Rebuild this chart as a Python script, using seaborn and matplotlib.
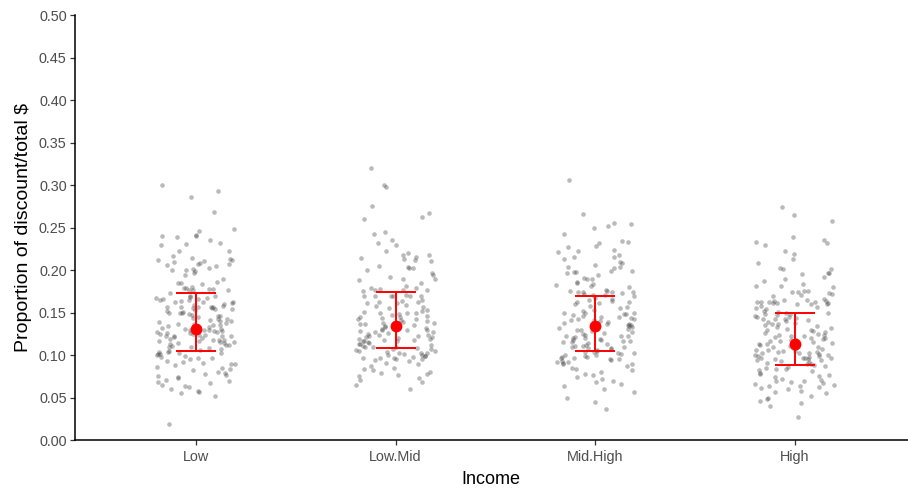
import numpy as np
import pandas as pd
import seaborn as sns
import matplotlib
matplotlib.use("Agg")
import matplotlib.pyplot as plt

# Income groups along the x axis
income_levels = ["Low", "Low.Mid", "Mid.High", "High"]

# Proportion of discount to total spend, per customer
low = [
    0.300, 0.293, 0.286, 0.268, 0.248, 0.246, 0.241, 0.240, 0.239, 0.240, 0.235, 0.232, 0.231, 0.229,
    0.223, 0.222, 0.216, 0.214, 0.213, 0.212, 0.211, 0.212, 0.210, 0.208, 0.207, 0.206, 0.207, 0.205,
    0.202, 0.201, 0.200, 0.199, 0.200, 0.196, 0.194, 0.190, 0.186, 0.185, 0.184, 0.185, 0.180, 0.179,
    0.178, 0.179, 0.177, 0.178, 0.176, 0.177, 0.173, 0.170, 0.168, 0.169, 0.167, 0.166, 0.165, 0.167,
    0.166, 0.156, 0.157, 0.155, 0.154, 0.156,
    0.165, 0.164, 0.163, 0.162, 0.162, 0.161, 0.160, 0.159, 0.158, 0.157,
    0.156, 0.155, 0.154, 0.153, 0.152, 0.151, 0.150, 0.150, 0.149, 0.148, 0.147, 0.146, 0.146, 0.145,
    0.144, 0.143, 0.142, 0.141, 0.140, 0.140, 0.139, 0.138, 0.137, 0.136, 0.135, 0.135, 0.134, 0.133,
    0.132, 0.131, 0.131, 0.130, 0.129, 0.128, 0.128, 0.127, 0.127, 0.126, 0.125, 0.125, 0.124, 0.124,
    0.123, 0.122, 0.122, 0.121, 0.129, 0.126, 0.123,
    0.120, 0.119, 0.118, 0.118, 0.117, 0.116, 0.115, 0.115, 0.114, 0.113, 0.112, 0.112, 0.111, 0.110,
    0.118, 0.114,
    0.109, 0.108, 0.107, 0.106, 0.105, 0.104, 0.103, 0.102, 0.101, 0.100, 0.099, 0.098, 0.104, 0.101,
    0.097, 0.096, 0.095, 0.093, 0.092, 0.091, 0.090, 0.089, 0.088, 0.086,
    0.085, 0.083, 0.082, 0.080, 0.079, 0.078, 0.077, 0.075,
    0.074, 0.073, 0.071, 0.070, 0.068, 0.067, 0.065, 0.063,
    0.062, 0.060, 0.058, 0.056, 0.055, 0.052,
    0.019,
]
low_mid = [
    0.320, 0.300, 0.298, 0.276, 0.267, 0.262, 0.260, 0.245, 0.243, 0.235, 0.232, 0.230, 0.218, 0.222,
    0.220, 0.218, 0.215, 0.214, 0.212, 0.211, 0.213, 0.205, 0.203, 0.202, 0.204, 0.200, 0.194, 0.196,
    0.192, 0.190, 0.188, 0.189, 0.185, 0.181, 0.179, 0.179, 0.178, 0.176, 0.177, 0.175, 0.176, 0.170,
    0.170, 0.169, 0.170, 0.169, 0.171, 0.170, 0.163, 0.161, 0.165,
    0.164, 0.162, 0.161, 0.159, 0.158, 0.156, 0.155, 0.153,
    0.152, 0.151, 0.150, 0.149, 0.149, 0.148, 0.147, 0.146, 0.145, 0.145, 0.144, 0.143, 0.142, 0.141,
    0.140, 0.139, 0.138, 0.138, 0.137, 0.136, 0.135, 0.134, 0.133, 0.132, 0.131, 0.130, 0.130, 0.129,
    0.128, 0.127, 0.127, 0.126, 0.125, 0.124, 0.124, 0.123, 0.122, 0.121, 0.121, 0.120, 0.119, 0.119,
    0.118, 0.118,
    0.117, 0.116, 0.116, 0.115, 0.114, 0.113, 0.113, 0.112, 0.111, 0.110, 0.110, 0.109, 0.108, 0.107,
    0.107, 0.106,
    0.105, 0.105, 0.104, 0.103, 0.103, 0.102, 0.101, 0.100, 0.100, 0.099, 0.099, 0.098, 0.097, 0.097,
    0.096, 0.095, 0.095, 0.094,
    0.093, 0.091, 0.089, 0.087, 0.085, 0.083,
    0.082, 0.080, 0.079, 0.078, 0.076, 0.075, 0.073, 0.071,
    0.068, 0.065, 0.060,
]
mid_high = [
    0.306, 0.266, 0.254, 0.249, 0.252, 0.256, 0.243, 0.234, 0.233, 0.227, 0.232, 0.223, 0.224, 0.221,
    0.228, 0.218, 0.215, 0.213, 0.208, 0.215, 0.210, 0.206, 0.204, 0.203, 0.204, 0.199, 0.199, 0.198,
    0.198, 0.197, 0.194, 0.190, 0.191, 0.190, 0.186, 0.183, 0.184, 0.185, 0.181, 0.180, 0.175, 0.176,
    0.175, 0.174, 0.171, 0.174, 0.174, 0.174, 0.173, 0.172, 0.169, 0.171, 0.167, 0.166,
    0.165, 0.164, 0.163, 0.162, 0.161, 0.160, 0.158, 0.157, 0.155, 0.153, 0.152, 0.150,
    0.150, 0.149, 0.148, 0.148, 0.147, 0.146, 0.145, 0.145, 0.144, 0.143, 0.142, 0.141, 0.141, 0.140,
    0.139, 0.138, 0.137, 0.136, 0.135, 0.135, 0.134, 0.133, 0.132, 0.131, 0.130, 0.129, 0.128, 0.127,
    0.126,
    0.125, 0.124, 0.123, 0.123, 0.122, 0.121, 0.120, 0.120, 0.119, 0.118, 0.118, 0.117, 0.116, 0.115,
    0.115, 0.114,
    0.113, 0.112, 0.111, 0.111, 0.110, 0.109, 0.108, 0.108, 0.107, 0.106, 0.105, 0.104, 0.104, 0.103,
    0.102,
    0.101, 0.100, 0.100, 0.099, 0.098, 0.098, 0.097, 0.096, 0.095, 0.095, 0.094, 0.093, 0.092, 0.092,
    0.091, 0.090,
    0.089, 0.087, 0.085, 0.083, 0.082, 0.080, 0.078,
    0.077, 0.074, 0.072, 0.070, 0.068, 0.066, 0.063, 0.060,
    0.056, 0.050, 0.045, 0.036,
]
high = [
    0.274, 0.258, 0.265, 0.239, 0.232, 0.233, 0.236, 0.229, 0.222, 0.219, 0.213, 0.208, 0.203, 0.201,
    0.201, 0.197, 0.195, 0.196, 0.192, 0.190, 0.187, 0.184, 0.181, 0.181, 0.180, 0.172, 0.174, 0.175,
    0.175, 0.173, 0.174, 0.171, 0.170, 0.164, 0.160, 0.161, 0.163, 0.165, 0.163, 0.161, 0.166, 0.160,
    0.165, 0.164, 0.163, 0.162, 0.161, 0.160, 0.158, 0.157, 0.155, 0.154, 0.152, 0.151, 0.150,
    0.149, 0.148, 0.148, 0.147, 0.146, 0.145, 0.145, 0.144, 0.143, 0.142, 0.142, 0.141,
    0.140, 0.139, 0.138, 0.137, 0.136, 0.135, 0.134, 0.133, 0.132, 0.131, 0.130, 0.129,
    0.128, 0.127, 0.126, 0.125, 0.124, 0.124, 0.123, 0.122, 0.121, 0.120, 0.120, 0.119, 0.118, 0.118,
    0.117, 0.116, 0.115, 0.114, 0.113, 0.113, 0.112, 0.111, 0.110, 0.109, 0.108, 0.108, 0.107, 0.106,
    0.106, 0.105, 0.105, 0.104, 0.104, 0.103, 0.102, 0.102, 0.101, 0.100, 0.100, 0.099, 0.099, 0.098,
    0.097, 0.097, 0.096, 0.096, 0.095, 0.095, 0.094, 0.094,
    0.093, 0.092, 0.091, 0.090, 0.089, 0.088, 0.087, 0.086, 0.085, 0.084, 0.083, 0.082,
    0.081, 0.079, 0.078, 0.076, 0.075, 0.074, 0.072, 0.071,
    0.070, 0.069, 0.068, 0.067, 0.066, 0.065, 0.064, 0.063, 0.062, 0.061, 0.060, 0.058,
    0.057, 0.055, 0.052, 0.050, 0.048, 0.046, 0.043, 0.040,
    0.027,
]

# Group summaries: central point and the ends of each interval
center = [0.131, 0.134, 0.134, 0.113]
lower = [0.105, 0.108, 0.105, 0.088]
upper = [0.173, 0.174, 0.169, 0.149]

df = pd.DataFrame({
    "Income": (["Low"] * len(low) + ["Low.Mid"] * len(low_mid)
               + ["Mid.High"] * len(mid_high) + ["High"] * len(high)),
    "prop": low + low_mid + mid_high + high,
})

sns.set_theme(style="ticks")
plt.rcParams["font.family"] = ["Liberation Sans", "DejaVu Sans"]

fig = plt.figure(figsize=(9.08, 4.90), dpi=100)
ax = fig.add_axes([0.0826, 0.102, 0.917, 0.867])

np.random.seed(7)
sns.stripplot(data=df, x="Income", y="prop", order=income_levels,
              jitter=0.2, size=3.3, color="#3a3a3a", alpha=0.35,
              linewidth=0, ax=ax, zorder=2)

xpos = np.arange(len(income_levels))
c = np.array(center)
ax.errorbar(xpos, c, yerr=[c - np.array(lower), np.array(upper) - c],
            fmt="o", color="red", ecolor="red", markersize=7.5,
            elinewidth=1.4, capsize=14.5, capthick=1.4, zorder=5)

ax.set_xlim(-0.606, 3.565)
ax.set_ylim(0, 0.5)
ax.set_yticks(np.arange(0, 0.501, 0.05))
ax.set_yticklabels([f"{v:.2f}" for v in np.arange(0, 0.501, 0.05)])

sns.despine(ax=ax)
for side in ("left", "bottom"):
    ax.spines[side].set_color("black")
    ax.spines[side].set_linewidth(1.1)
ax.tick_params(axis="both", colors="#333333", labelcolor="#4d4d4d",
               labelsize=10.4, length=3.5, width=0.9, pad=2.5)
ax.tick_params(axis="x", pad=4)

ax.set_xlabel("Income", fontsize=13, color="black", labelpad=5)
ax.set_ylabel("Proportion of discount/total $", fontsize=14, color="black", labelpad=5)

fig.savefig("out.png", dpi=100)
